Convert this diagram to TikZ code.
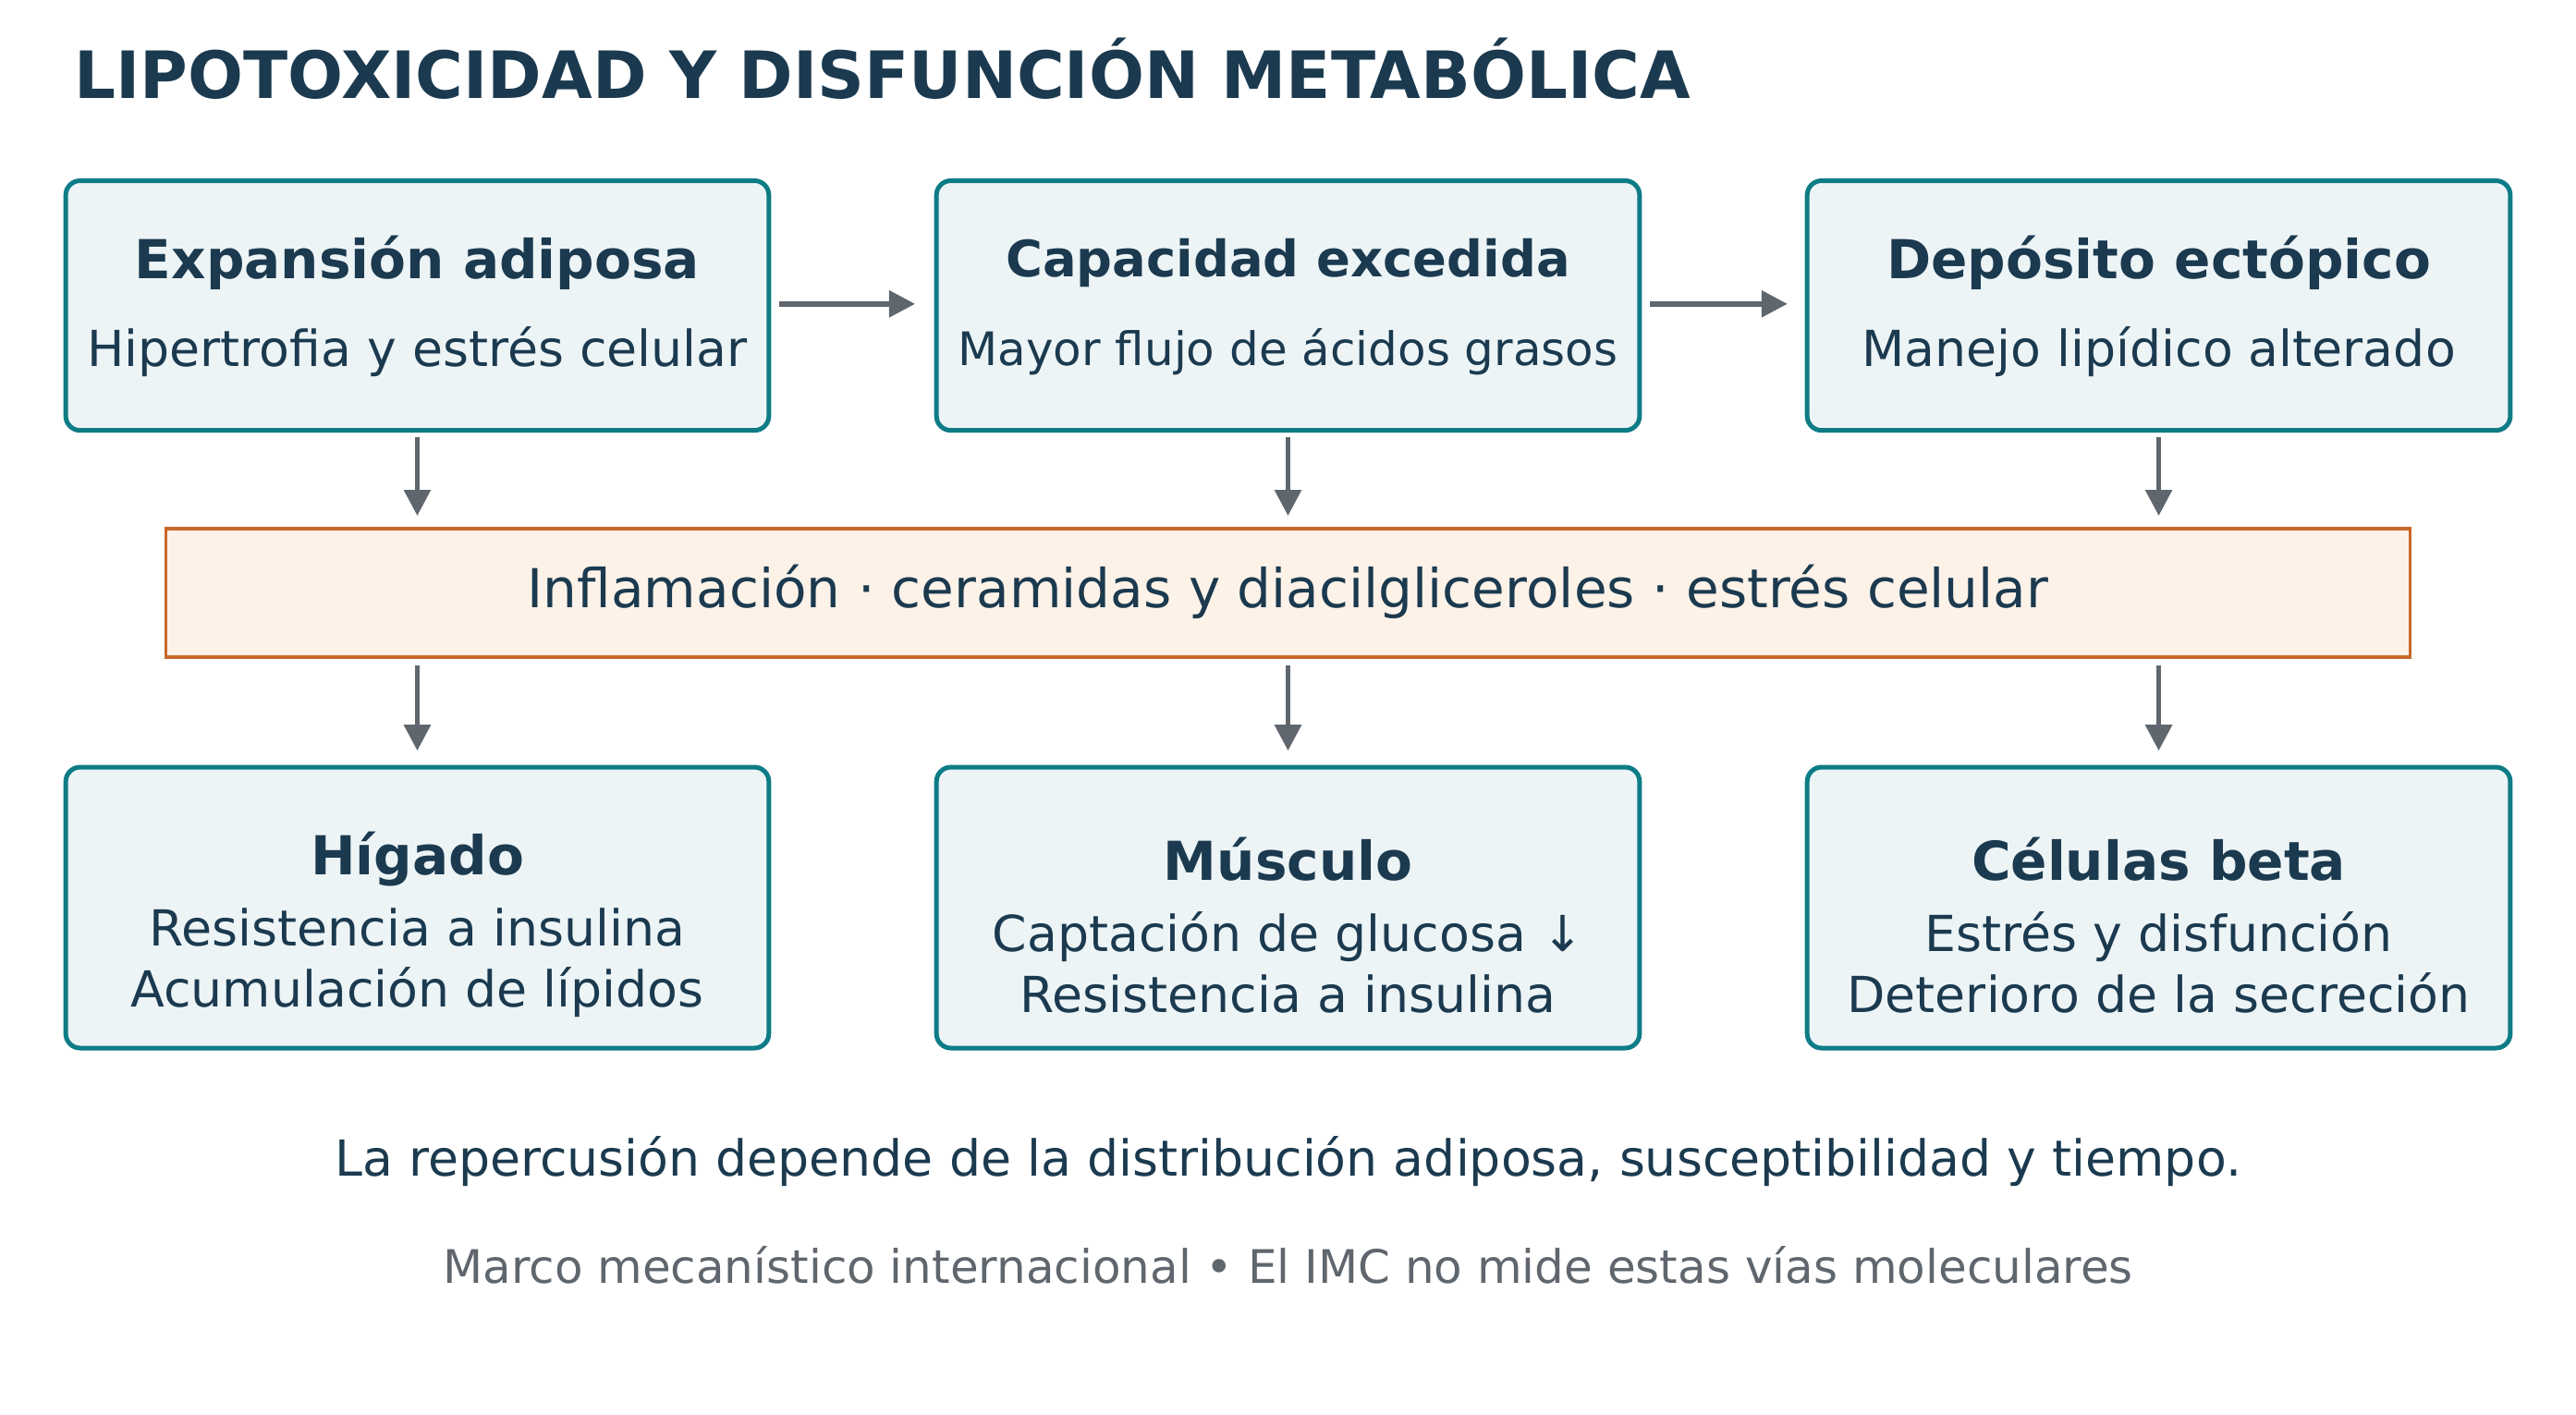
\documentclass[tikz,border=0pt]{standalone}
\usepackage{fontspec}
\setmainfont{DejaVu Sans}
\usetikzlibrary{arrows.meta}
\definecolor{teal}{HTML}{0E7C86}
\definecolor{boxfill}{HTML}{EDF4F6}
\definecolor{ink}{HTML}{1B3A4F}
\definecolor{bandfill}{HTML}{FDF2E8}
\definecolor{bandline}{HTML}{C8682A}
\definecolor{arr}{HTML}{5F666D}
\begin{document}
\begin{tikzpicture}[x=0.02cm,y=-0.02cm,
  box/.style={draw=teal,fill=boxfill,line width=1.6pt,rounded corners=5pt},
  head/.style={text=ink,font=\fontsize{18.6}{22}\selectfont\bfseries},
  sub/.style={text=ink,font=\fontsize{17.2}{21}\selectfont},
  ar/.style={draw=arr,line width=1.8pt,-{Triangle[length=9pt,width=9pt]}}]
\useasboundingbox (0,0) rectangle (1568,861);
\node[anchor=west,inner sep=0pt,text=ink,font=\fontsize{22.6}{26}\selectfont\bfseries] (title) at (45,42) {LIPOTOXICIDAD Y DISFUNCIÓN METABÓLICA};
% top row
\foreach \x in {40,570,1100}{\path[box] (\x,110) rectangle ++(428,152);}
\node[head] (ah) at (254,160) {Expansión adiposa};
\node[sub] (as) at (254,214) {Hipertrofia y estrés celular};
\node[head,font=\fontsize{17.4}{21}\selectfont\bfseries] (bh) at (784,160) {Capacidad excedida};
\node[sub,font=\fontsize{16}{19}\selectfont] (bs) at (784,214) {Mayor flujo de ácidos grasos};
\node[head] (ch) at (1314,160) {Depósito ectópico};
\node[sub] (cs) at (1314,214) {Manejo lipídico alterado};
\coordinate (a1) at (474,185); \coordinate (b0) at (557,185);
\coordinate (b1) at (1004,185); \coordinate (c0) at (1088,185);
\draw[ar] (a1) -- (b0);
\draw[ar] (b1) -- (c0);
% band
\path[draw=bandline,fill=bandfill,line width=1.2pt] (101,322) rectangle (1467,400);
\node[text=ink,font=\fontsize{18.6}{22}\selectfont] (bt) at (784,360) {Inflamación · ceramidas y diacilgliceroles · estrés celular};
% bottom
\foreach \x in {40,570,1100}{\path[box] (\x,467) rectangle ++(428,171);}
\node[head] (dh) at (254,523) {Hígado};
\node[sub,align=center,font=\fontsize{17.2}{21}\selectfont] (ds) at (254,586) {Resistencia a insulina\\Acumulación de lípidos};
\node[head] (eh) at (784,523) {Músculo};
\node[sub,align=center,font=\fontsize{17.2}{21}\selectfont] (es) at (784,586) {Captación de glucosa ↓\\Resistencia a insulina};
\node[head] (fh) at (1314,523) {Células beta};
\node[sub,align=center,font=\fontsize{17.2}{21}\selectfont] (fs) at (1314,586) {Estrés y disfunción\\Deterioro de la secreción};
\foreach \x/\n in {254/p,784/q,1314/r}{
  \coordinate (\n1) at (\x,266); \coordinate (\n2) at (\x,314);
  \coordinate (\n3) at (\x,405); \coordinate (\n4) at (\x,457);
  \draw[ar] (\n1) -- (\n2);
  \draw[ar] (\n3) -- (\n4);
}
\node[text=ink,font=\fontsize{17.2}{20}\selectfont] (foot) at (784,707) {La repercusión depende de la distribución adiposa, susceptibilidad y tiempo.};
\node[text=arr,font=\fontsize{16}{19}\selectfont] (note) at (784,770) {Marco mecanístico internacional • El IMC no mide estas vías moleculares};
\end{tikzpicture}
\end{document}
